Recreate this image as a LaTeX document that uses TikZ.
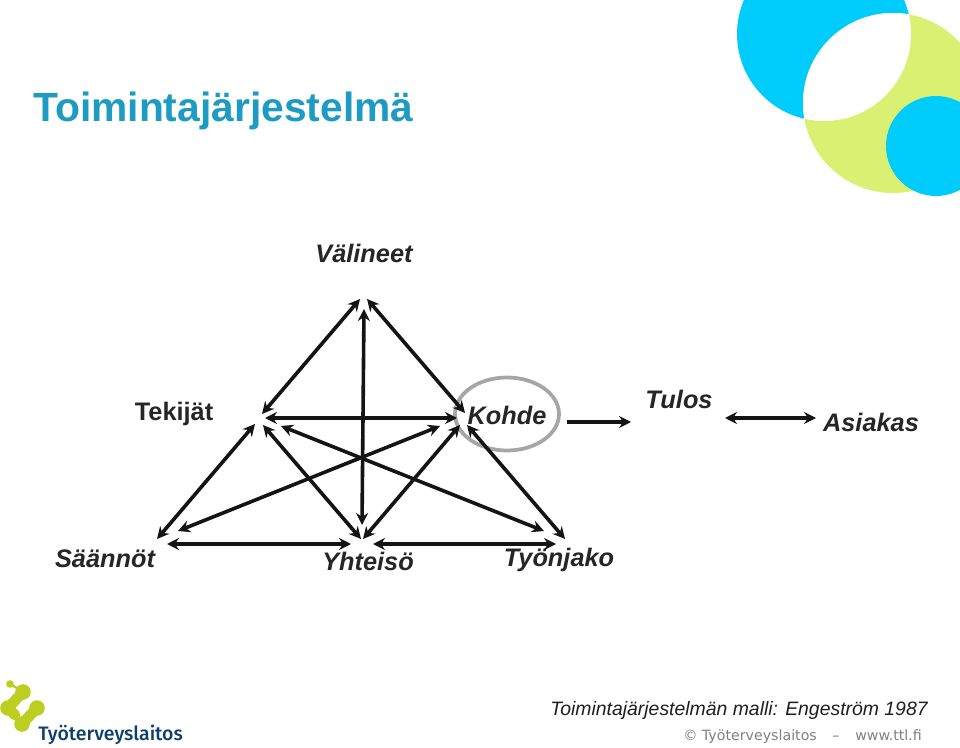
\documentclass[tikz,border=0pt]{standalone}
\usepackage{fontspec}
\setmainfont{Liberation Sans}
\newfontfamily\dejavu{DejaVu Sans}
\newfontfamily\logofont{Fira Sans}[BoldFont={Fira Sans Medium}]
\usetikzlibrary{arrows.meta}
\definecolor{ttlblue}{HTML}{00CCFC}
\definecolor{ttlgreen}{HTML}{DAF073}
\definecolor{titleblue}{HTML}{1E9BC3}
\definecolor{logogreen}{HTML}{BCCF20}
\definecolor{logoblue}{HTML}{0F3F6B}
\definecolor{ringgray}{HTML}{A6A6A6}
\tikzset{
  x=0.75pt,y=-0.75pt,
  biarrow/.style={{Stealth[length=9pt,width=9pt,inset=3pt]}-{Stealth[length=9pt,width=9pt,inset=3pt]}},
  link/.style={line width=2.7pt,biarrow,black!92},
  flatlink/.style={line width=2.6pt,biarrow,black!92},
  thinlink/.style={line width=2.4pt,biarrow,black!92},
  onelink/.style={line width=3pt,-{Stealth[length=9pt,width=9pt,inset=3pt]},black!92},
  lbl/.style={font=\fontsize{19}{21}\selectfont\bfseries,text=black!85,inner sep=0pt},
  ilbl/.style={lbl,font=\fontsize{19}{21}\selectfont\bfseries\itshape},
  logostroke/.style={logogreen,line width=8pt,line cap=round,line join=round},
  footer/.style={anchor=base west,inner sep=0pt,font=\dejavu\fontsize{10.65}{12}\selectfont,text=black!50}
}
\begin{document}
\begin{tikzpicture}
\useasboundingbox (0,0) rectangle (960,748);
\fill[white] (0,0) rectangle (960,748);
\begin{scope}
\clip (0,0) rectangle (960,748);
\fill[ttlblue] (824,34) circle[radius=87];
\fill[ttlgreen] (893,103) circle[radius=90];
\begin{scope}
\clip (824,34) circle[radius=87];
\fill[white] (893,103) circle[radius=90];
\end{scope}
\fill[ttlblue] (936,146) circle[radius=50];
\end{scope}
\node[anchor=base west,inner sep=0pt,text=titleblue,font=\fontsize{30.6}{34}\selectfont\bfseries] (title) at (33,122) {Toimintajärjestelmä};
\node[ilbl,anchor=center] (valineet) at (364,253) {Välineet};
\node[lbl,anchor=center] (tekijat) at (174,414) {Tekijät};
\node[ilbl,anchor=center] (kohde) at (507,415) {Kohde};
\node[ilbl,anchor=center] (tulos) at (679,399) {Tulos};
\node[ilbl,anchor=center] (asiakas) at (871,422) {Asiakas};
\node[ilbl,anchor=center] (saannot) at (105,559) {Säännöt};
\node[ilbl,anchor=center] (yhteiso) at (368,561) {Yhteisö};
\node[ilbl,anchor=center] (tyonjako) at (559,560) {Työnjako};
\draw[ringgray,line width=2.8pt] (507,414) ellipse[x radius=52,y radius=36.5];
\foreach \n/\x/\y in {aL/360/299,aR/367/299,aV/364/309,tU/262/414,kU/465/413,vB/362/525,
  tH/265/418,kH/457/418,sU/157/539,tS/255/424,tY/263/425,yT/361/539,tW/281/426,wT/544/531,
  sK/178/531,kS/440/426,yK/363/539,kY/460/425,kW/467/425,wK/565/539,
  sB/167/544,yL/351/544,yR/373/544,wB/556/544,oA/567/422,oB/631/422,dA/725/418,dB/816/418}
  {\coordinate (\n) at (\x,\y);}
\draw[link] (aL) -- (tU);
\draw[link] (aR) -- (kU);
\draw[link] (aV) -- (vB);
\draw[flatlink] (tH) -- (kH);
\draw[link] (sU) -- (tS);
\draw[link] (tY) -- (yT);
\draw[link] (tW) -- (wT);
\draw[link] (sK) -- (kS);
\draw[link] (yK) -- (kY);
\draw[link] (kW) -- (wK);
\draw[thinlink] (sB) -- (yL);
\draw[thinlink] (yR) -- (wB);
\draw[onelink] (oA) -- (oB);
\draw[flatlink] (dA) -- (dB);
\node[anchor=base west,inner sep=0pt,font=\fontsize{14.55}{16}\selectfont\itshape,text=black!88] (malli) at (550,715) {Toimintajärjestelmän malli: Engeström 1987};
\node[footer] (copy) at (683,740) {© Työterveyslaitos};
\node[footer] (dash) at (832,740) {–};
\node[footer] (www) at (855,740) {www.ttl.fi};
% logo
\fill[logogreen] (10,684) circle[radius=3.8];
\draw[logogreen,line width=1.8pt] (10,684) -- (22,691);
\foreach \lx/\ly in {23/692,8/708,37/708,22/724}
  \fill[logogreen] (\lx,\ly) circle[radius=7.8];
\draw[logostroke] (23,692) -- (8,708) -- (15,715);
\draw[logostroke] (37,708) -- (22,724);
\node[anchor=base west,inner sep=0pt,font=\logofont\fontsize{14.6}{18}\selectfont\bfseries,text=logoblue] (logo) at (38,740) {Työterveyslaitos};
\end{tikzpicture}
\end{document}
